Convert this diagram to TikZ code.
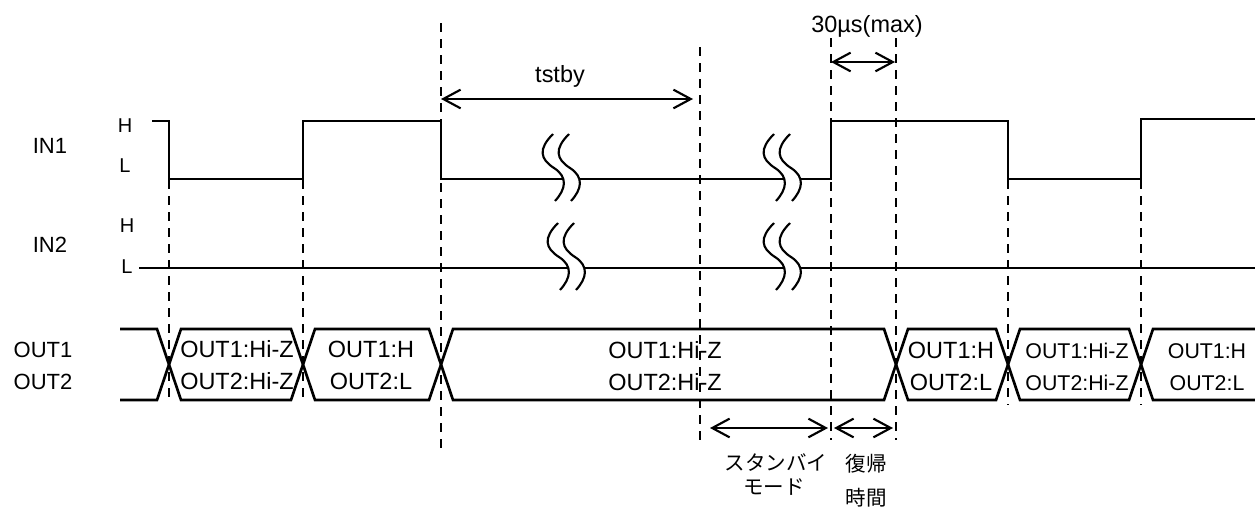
\documentclass[tikz,border=0pt]{standalone}
\usepackage{fontspec}
\setmainfont{Liberation Sans}
\newfontfamily\jpfont{Noto Sans CJK JP}
\usetikzlibrary{arrows.meta}
\newcommand\brkmark[2]{%
  \fill[white] (#1-9,#2-45) .. controls (#1-24,#2-30) and (#1-22,#2-20) .. (#1-8,#2-11)
     .. controls (#1+6,#2-2) and (#1+4,#2+10) .. (#1-7,#2+22) -- (#1+9,#2+22)
     .. controls (#1+20,#2+10) and (#1+22,#2-2) .. (#1+8,#2-11)
     .. controls (#1-6,#2-20) and (#1-8,#2-30) .. (#1+7,#2-45) -- cycle;
  \draw[brk] (#1-9,#2-45) .. controls (#1-24,#2-30) and (#1-22,#2-20) .. (#1-8,#2-11)
     .. controls (#1+6,#2-2) and (#1+4,#2+10) .. (#1-7,#2+22);
  \draw[brk] (#1+7,#2-45) .. controls (#1-8,#2-30) and (#1-6,#2-20) .. (#1+8,#2-11)
     .. controls (#1+22,#2-2) and (#1+20,#2+10) .. (#1+9,#2+22);
}
\begin{document}
\begin{tikzpicture}[x=0.75pt,y=-0.75pt,
  sig/.style={line width=2pt, line join=miter},
  brk/.style={line width=1.6pt},
  guide/.style={line width=1.8pt, dash pattern=on 7pt off 5pt},
  dim/.style={line width=1.6pt,
    {Straight Barb[length=13pt,width=14pt]}-{Straight Barb[length=13pt,width=14pt]}},
  lbl/.style={inner sep=0, anchor=base, font=\fontsize{16.5}{20}\selectfont},
  hl/.style={inner sep=0, anchor=base, font=\fontsize{15}{18}\selectfont},
  big/.style={inner sep=0, anchor=base, font=\fontsize{17.6}{21}\selectfont},
  mid/.style={inner sep=0, anchor=base, font=\fontsize{16}{19}\selectfont},
  jp/.style={inner sep=0, anchor=center, font=\jpfont\fontsize{15.4}{18}\selectfont}]
\useasboundingbox (0,0) rectangle (1255,507);

% ---- signal labels
\node[lbl] (lin1) at (50,153) {IN1};
\node[lbl] (lin2) at (50,252) {IN2};
\node[lbl] (lout1) at (43,357) {OUT1};
\node[lbl] (lout2) at (43,389) {OUT2};
\node[hl] (h1) at (125,132) {H};
\node[hl] (l1) at (125,172) {L};
\node[hl] (h2) at (127,232) {H};
\node[hl] (l2) at (127,273) {L};

% ---- dashed guide lines
\foreach \n/\x/\a/\b in {ga/169/180/400, gb/303/180/400, gc/441/23/452, gd/700/47/445,
                         ge/831/38/440, gf/896/38/440, gg/1008/180/405, gh/1141/180/405}{
  \coordinate (\n t) at (\x,\a);
  \coordinate (\n b) at (\x,\b);
  \draw[guide] (\n t) -- (\n b);
}

% ---- IN1
\draw[sig] (152,121) -- (169,121) -- (169,179) -- (303,179) -- (303,121) -- (441,121)
  -- (441,179) -- (831,179) -- (831,121) -- (1008,121) -- (1008,179) -- (1141,179)
  -- (1141,119) -- (1255,119);
% ---- IN2
\draw[sig] (139,268) -- (1255,268);

% ---- break marks
\brkmark{562}{179}
\brkmark{783}{179}
\brkmark{567}{268}
\brkmark{783}{268}

% ---- OUT bus
\def\T{329}\def\B{400}
\draw[sig] (120,\T) -- (157,\T) -- (181,\B) -- (291,\B) -- (315,\T) -- (429,\T) -- (453,\B)
  -- (884,\B) -- (908,\T) -- (996,\T) -- (1020,\B) -- (1129,\B) -- (1153,\T) -- (1255,\T);
\draw[sig] (120,\B) -- (157,\B) -- (181,\T) -- (291,\T) -- (315,\B) -- (429,\B) -- (453,\T)
  -- (884,\T) -- (908,\B) -- (996,\B) -- (1020,\T) -- (1129,\T) -- (1153,\B) -- (1255,\B);

\node[big] (b1a) at (237,357) {OUT1:Hi-Z};
\node[big] (b1b) at (237,389) {OUT2:Hi-Z};
\node[big] (b2a) at (371,357) {OUT1:H};
\node[big] (b2b) at (371,389) {OUT2:L};
\node[big] (b3a) at (665,358) {OUT1:Hi-Z};
\node[big] (b3b) at (665,390) {OUT2:Hi-Z};
\node[big] (b4a) at (951,358) {OUT1:H};
\node[big] (b4b) at (951,390) {OUT2:L};
\node[mid] (b5a) at (1077,358) {OUT1:Hi-Z};
\node[mid] (b5b) at (1077,390) {OUT2:Hi-Z};
\node[mid] (b6a) at (1207,358) {OUT1:H};
\node[mid] (b6b) at (1207,390) {OUT2:L};

% ---- dimension arrows
\coordinate (ta) at (441,99);  \coordinate (tb) at (693,99);
\draw[dim] (ta) -- (tb);
\node[big] (tstby) at (560,82) {tstby};
\coordinate (ma) at (831,62);  \coordinate (mb) at (895,62);
\draw[dim] (ma) -- (mb);
\node[big] (tmax) at (867,32) {30µs(max)};
\coordinate (sa) at (710,428); \coordinate (sb) at (828,428);
\draw[dim] (sa) -- (sb);
\coordinate (ra) at (834,428); \coordinate (rb) at (893,428);
\draw[dim] (ra) -- (rb);

\node[jp] (jst1) at (776,463) {スタンバイ};
\node[jp] (jst2) at (774,487) {モード};
\node[jp] (jrc1) at (866,464) {復帰};
\node[jp] (jrc2) at (866,498) {時間};
\end{tikzpicture}
\end{document}
